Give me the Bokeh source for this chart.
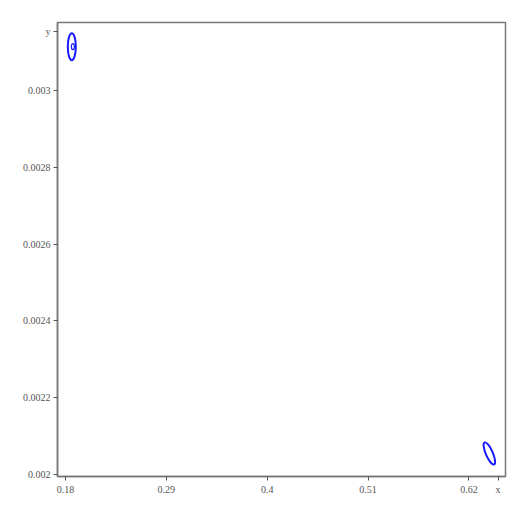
from bokeh.plotting import figure
from bokeh.models import Range1d, FixedTicker
from bokeh.embed import file_html
from bokeh.resources import INLINE

# data
x_ticks = [0.18, 0.29, 0.4, 0.51, 0.62]
x_tick_labels = ["0.18", "0.29", "0.4", "0.51", "0.62"]
y_ticks = [0.002, 0.0022, 0.0024, 0.0026, 0.0028, 0.003]
y_tick_labels = ["0.002", "0.0022", "0.0024", "0.0026", "0.0028", "0.003"]
x_name, x_name_pos = "x", 0.6517
y_name, y_name_pos = "y", 0.003154
curve_x = [0.1869, 0.6422]
curve_y = [0.003115, 0.002054]
curve_w = [8, 7]       # screen px
curve_h = [27, 24]     # screen px
curve_angle = [0.0, 0.41]

p = figure(width=516, height=501, output_backend="svg", toolbar_location=None,
           x_range=Range1d(0.1713, 0.6598), y_range=Range1d(0.001994, 0.003178),
           min_border_left=57, min_border_right=11, min_border_top=22, min_border_bottom=25)
p.grid.visible = False
p.outline_line_color = "#777777"
p.outline_line_width = 1.5
p.background_fill_color = "white"
p.border_fill_color = "white"

for ax in (p.xaxis[0], p.yaxis[0]):
    ax.axis_line_color = "#777777"
    ax.axis_line_width = 1.5
    ax.major_tick_line_color = "#555555"
    ax.major_tick_in = 0
    ax.major_tick_out = 4
    ax.minor_tick_line_color = None
    ax.major_label_text_font = "Liberation Serif"
    ax.major_label_text_font_size = "10px"
    ax.major_label_text_color = "#555555"
    ax.major_label_standoff = 3

xo = dict(zip(x_ticks, x_tick_labels))
xo[x_name_pos] = x_name
yo = dict(zip(y_ticks, y_tick_labels))
yo[y_name_pos] = y_name
p.xaxis[0].ticker = FixedTicker(ticks=x_ticks + [x_name_pos])
p.xaxis[0].major_label_overrides = xo
p.yaxis[0].ticker = FixedTicker(ticks=y_ticks + [y_name_pos])
p.yaxis[0].major_label_overrides = yo

p.ellipse(x=curve_x, y=curve_y, width=curve_w, height=curve_h, angle=curve_angle,
          width_units="screen", height_units="screen",
          fill_color=None, line_color="#1a1aff", line_width=2)
# small inner loop of the first curve
p.ellipse(x=[curve_x[0] + 0.0012], y=[curve_y[0]], width=[3], height=[6],
          width_units="screen", height_units="screen",
          fill_color=None, line_color="#1a1aff", line_width=1.2)

open("out.html", "w").write(file_html(p, INLINE))
